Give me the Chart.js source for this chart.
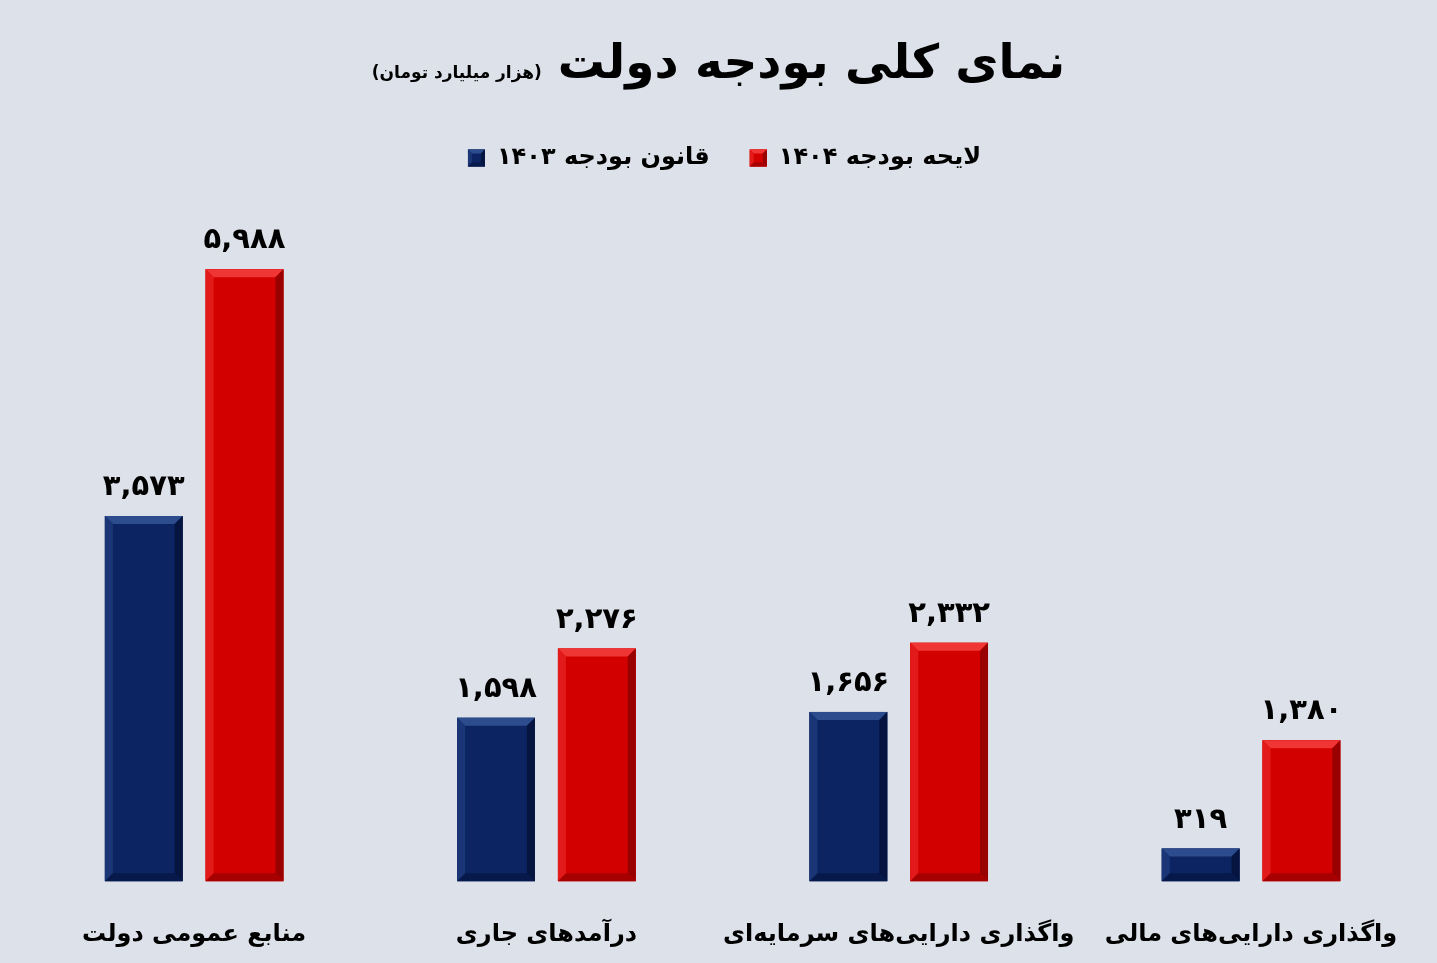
<!DOCTYPE html>
<html>
<head>
<meta charset="utf-8">
<script src="https://cdn.jsdelivr.net/npm/chart.js@4.4.1/dist/chart.umd.min.js"></script>
<style>
  html, body { margin: 0; padding: 0; background: #dde2ea; }
  #wrap { position: relative; width: 1437px; height: 963px; }
  #header {
    position: absolute; top: 34px; left: 0; width: 1437px;
    display: flex; justify-content: center; align-items: baseline;
    direction: rtl; font-family: "DejaVu Sans", sans-serif; font-weight: bold; color: #000;
  }
  #header .title { font-size: 47px; }
  #header .sub { font-size: 17px; margin-right: 16px; }
  canvas { position: absolute; top: 0; left: 0; }
</style>
</head>
<body>
<div id="wrap">
  <canvas id="budgetChart" width="1437" height="963"></canvas>
  <div id="header"><span class="title">نمای کلی بودجه دولت</span><span class="sub">(هزار میلیارد تومان)</span></div>
</div>
<script>
const categories = [
    'منابع عمومی دولت',
    'درآمدهای جاری',
    'واگذاری دارایی\u200cهای سرمایه\u200cای',
    'واگذاری دارایی\u200cهای مالی'
];
const seriesNames = ['قانون بودجه ۱۴۰۳', 'لایحه بودجه ۱۴۰۴'];
const budget1403 = [3573, 1598, 1656, 319];
const budget1404 = [5988, 2276, 2332, 1380];

const FONT = '"DejaVu Sans", sans-serif';

// bevel colours: base, top, left, right, bottom
const bevelBlue = ['#0c2461', '#2d4c8e', '#1a3676', '#061540', '#07194a'];
const bevelRed = ['#d30000', '#f03535', '#e21a1a', '#990000', '#a60000'];

function toPersian(n) {
    const fa = '۰۱۲۳۴۵۶۷۸۹';
    return n.toLocaleString('en-US').replace(/\d/g, d => fa[d]);
}

function drawBevel(ctx, l, t, r, b, c, s) {
    ctx.save();
    ctx.fillStyle = c[0];
    ctx.fillRect(l, t, r - l, b - t);
    const poly = (pts, col) => {
        ctx.beginPath();
        ctx.moveTo(pts[0][0], pts[0][1]);
        for (let i = 1; i < pts.length; i++) ctx.lineTo(pts[i][0], pts[i][1]);
        ctx.closePath();
        ctx.fillStyle = col;
        ctx.fill();
    };
    poly([[l, t], [r, t], [r - s, t + s], [l + s, t + s]], c[1]);
    poly([[l, t], [l + s, t + s], [l + s, b - s], [l, b]], c[2]);
    poly([[r, t], [r, b], [r - s, b - s], [r - s, t + s]], c[3]);
    poly([[l, b], [l + s, b - s], [r - s, b - s], [r, b]], c[4]);
    ctx.restore();
}

const bevelPlugin = {
    id: 'bevel',
    afterDatasetsDraw(chart) {
        const ctx = chart.ctx;
        chart.data.datasets.forEach((ds, i) => {
            const cols = i === 0 ? bevelBlue : bevelRed;
            chart.getDatasetMeta(i).data.forEach((bar, j) => {
                const l = bar.x - bar.width / 2, r = bar.x + bar.width / 2;
                const s = Math.min(8, (bar.base - bar.y) / 3);
                drawBevel(ctx, l, bar.y, r, bar.base, cols, s);
                ctx.save();
                ctx.fillStyle = '#000';
                ctx.font = 'bold 29px ' + FONT;
                ctx.textAlign = 'center';
                ctx.textBaseline = 'bottom';
                ctx.fillText(toPersian(ds.data[j]), bar.x, bar.y - 14);
                ctx.restore();
            });
        });
        // legend boxes
        const lg = chart.legend;
        if (lg && lg.legendHitBoxes) {
            lg.legendHitBoxes.forEach((hb, i) => {
                const bw = 17;
                const top = hb.top + (hb.height - bw) / 2;
                drawBevel(ctx, hb.left, top, hb.left + bw, top + bw, i === 0 ? bevelBlue : bevelRed, 4);
            });
        }
    }
};

const ctx = document.getElementById('budgetChart').getContext('2d');
const budgetChart = new Chart(ctx, {
    type: 'bar',
    data: {
        labels: categories,
        datasets: [{
            label: seriesNames[0],
            data: budget1403,
            backgroundColor: bevelBlue[0],
            borderWidth: 0
        }, {
            label: seriesNames[1],
            data: budget1404,
            backgroundColor: bevelRed[0],
            borderWidth: 0
        }]
    },
    options: {
        responsive: false,
        animation: false,
        categoryPercentage: 0.572,
        barPercentage: 0.772,
        layout: {
            padding: { top: 106, left: 18, right: 6, bottom: -25 }
        },
        plugins: {
            legend: {
                display: true,
                position: 'top',
                labels: {
                    boxWidth: 17,
                    boxHeight: 17,
                    padding: 40,
                    color: '#000',
                    font: { family: FONT, size: 24, weight: 'bold' }
                }
            },
            tooltip: { enabled: false }
        },
        scales: {
            x: {
                grid: { display: false, drawTicks: false },
                border: { display: false },
                ticks: {
                    color: '#000',
                    padding: 39,
                    maxRotation: 0,
                    minRotation: 0,
                    autoSkip: false,
                    font: { family: FONT, size: 24, weight: 'bold' }
                }
            },
            y: {
                display: false,
                min: 0,
                max: 6860
            }
        }
    },
    plugins: [bevelPlugin]
});
</script>
</body>
</html>
